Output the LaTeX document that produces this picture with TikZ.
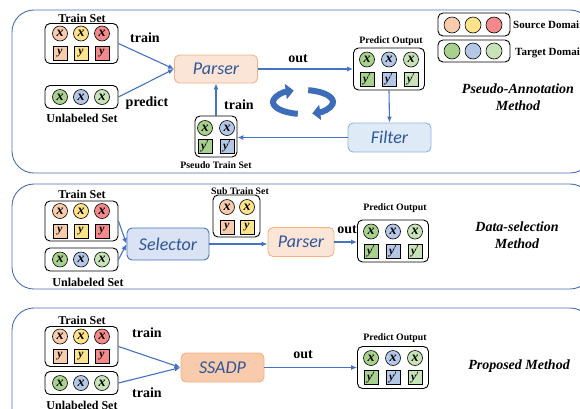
\documentclass[tikz,border=0pt]{standalone}
\usepackage{fontspec}
\setmainfont{Liberation Serif}
\newfontfamily\calib{Carlito}
\usetikzlibrary{arrows.meta}
\definecolor{cSal}{HTML}{F8CBAD}
\definecolor{cYel}{HTML}{FFE38A}
\definecolor{cRed}{HTML}{F28A8C}
\definecolor{cGrn}{HTML}{A9D18E}
\definecolor{cBlu}{HTML}{B4C7E7}
\definecolor{cLgr}{HTML}{C9E3B8}
\definecolor{cLine}{HTML}{4472C4}
\definecolor{cPanel}{HTML}{4A6FB0}
\definecolor{cTxt}{HTML}{2F5597}
\definecolor{cPfill}{HTML}{FBE5D6}
\definecolor{cPdraw}{HTML}{F4B183}
\definecolor{cFfill}{HTML}{DEEBF7}
\definecolor{cFdraw}{HTML}{8FB4E0}
\definecolor{cSfill}{HTML}{DAE3F3}
\definecolor{cSdraw}{HTML}{4472C4}
\definecolor{cCyc}{HTML}{3D6CB9}
\tikzset{
 panel/.style={draw=cPanel, line width=0.9pt, rounded corners=22pt},
 setbox/.style={draw=black, line width=0.9pt, rounded corners=5pt, inner sep=0pt},
 xc/.style={circle, draw=black, line width=0.6pt, minimum size=15pt, inner sep=0pt, font=\fontsize{14}{14}\selectfont\bfseries\itshape},
 ysq/.style={rectangle, draw=black, line width=0.6pt, minimum size=14pt, inner sep=0pt, font=\fontsize{11.5}{11.5}\selectfont\bfseries\itshape},
 lc/.style={circle, draw=black, line width=0.6pt, minimum size=16pt, inner sep=0pt},
 proc/.style={rounded corners=5pt, line width=0.9pt, font=\calib\fontsize{18}{18}\selectfont\itshape, text=cTxt, inner sep=0pt},
 lbl/.style={font=\fontsize{12}{12}\selectfont\bfseries, inner sep=0pt},
 small/.style={font=\fontsize{9.8}{9.8}\selectfont\bfseries, inner sep=0pt},
 elbl/.style={font=\fontsize{14}{14}\selectfont\bfseries, inner sep=0pt},
 meth/.style={font=\fontsize{14}{17}\selectfont\bfseries\itshape, inner sep=0pt, align=center},
 arr/.style={draw=cLine, line width=1.1pt, -{Latex[length=6pt,width=5pt]}},
 cyc/.style={draw=cCyc, line width=6pt, -{Triangle[length=8pt,width=15pt]}},
}
\newcommand{\xn}[4]{\node[xc,fill=#4] (#1) at (#2,#3) {x};}
\newcommand{\yn}[4]{\node[ysq,fill=#4] (#1) at (#2,#3) {y};}
\newcommand{\ypn}[4]{\node[ysq,fill=#4] (#1) at (#2,#3) {y$'$};}
\newcommand{\trainset}[2]{%
 \node[setbox, minimum width=73pt, minimum height=40pt] (#1) at (81.5,#2) {};
 \xn{#1x1}{60}{#2-10}{cSal}\xn{#1x2}{81}{#2-10}{cYel}\xn{#1x3}{102}{#2-10}{cRed}
 \yn{#1y1}{60}{#2+10}{cSal}\yn{#1y2}{81}{#2+10}{cYel}\yn{#1y3}{102}{#2+10}{cRed}}
\newcommand{\unlset}[2]{%
 \node[setbox, minimum width=73pt, minimum height=23pt] (#1) at (81.5,#2) {};
 \xn{#1x1}{60}{#2}{cGrn}\xn{#1x2}{81}{#2}{cBlu}\xn{#1x3}{102}{#2}{cLgr}}
\newcommand{\predset}[3]{%
 \node[setbox, minimum width=71pt, minimum height=42pt] (#1) at (#2,#3) {};
 \xn{#1x1}{#2-22}{#3-9.5}{cGrn}\xn{#1x2}{#2}{#3-9.5}{cBlu}\xn{#1x3}{#2+22}{#3-9.5}{cLgr}
 \ypn{#1y1}{#2-22}{#3+10}{cGrn}\ypn{#1y2}{#2}{#3+10}{cBlu}\ypn{#1y3}{#2+22}{#3+10}{cLgr}}
\begin{document}
\begin{tikzpicture}[x=1pt,y=-1pt]
\useasboundingbox (0,0) rectangle (580,408);
\clip (0,0) rectangle (580,408);
% panels
\draw[panel] (12,10) rectangle (592,173);
\draw[panel] (12,184) rectangle (592,289);
\draw[panel] (12,308) rectangle (592,440);

% ---------- panel 1
\node[lbl] (t1) at (82,18) {Train Set};
\trainset{ts1}{43.5}
\unlset{us1}{97}
\node[lbl] (u1) at (82,118) {Unlabeled Set};
\node[proc, fill=cPfill, draw=cPdraw, minimum width=83pt, minimum height=28pt] (p1) at (216,69) {Parser};
\draw[arr] (ts1.east) -- (p1.west);
\draw[arr] (us1.east) -- (p1.west);
\node[elbl] (l1) at (145,38) {train};
\node[elbl] (l2) at (147,103) {predict};
\node[small] (po1l) at (391,41) {Predict Output};
\predset{po1}{389}{69}
\draw[arr] (p1.east) -- (po1.west);
\node[elbl] (l3) at (298,59) {out};
\node[proc, fill=cFfill, draw=cFdraw, minimum width=83pt, minimum height=29pt] (f1) at (389.5,137.5) {Filter};
\draw[arr] (po1.south) -- (f1.north);
\node[setbox, minimum width=42pt, minimum height=41pt] (ps1) at (216,136.5) {};
\xn{ps1x1}{205}{128}{cGrn}\xn{ps1x2}{227}{128}{cBlu}
\ypn{ps1y1}{205}{146}{cGrn}\ypn{ps1y2}{227}{146}{cBlu}
\node[small] (ps1l) at (216,165) {Pseudo Train Set};
\draw[arr] (f1.west) -- (f1.west -| ps1.east);
\draw[arr] (ps1.north) -- (p1.south);
\node[elbl] (l4) at (239,105) {train};
% cycle arrows
\draw[cyc] (297.8,113.8) arc[start angle=100, end angle=252, x radius=30, y radius=12];
\draw[cyc] (308.2,90.2) arc[start angle=280, end angle=432, x radius=30, y radius=12];
% legend
\node[setbox, minimum width=72pt, minimum height=23pt] (lg1) at (474,24.5) {};
\node[lc, fill=cSal] (lg1a) at (452,25) {};
\node[lc, fill=cYel] (lg1b) at (473,25) {};
\node[lc, fill=cRed] (lg1c) at (494,25) {};
\node[setbox, minimum width=72pt, minimum height=22pt] (lg2) at (474,51) {};
\node[lc, fill=cGrn] (lg2a) at (452,51) {};
\node[lc, fill=cBlu] (lg2b) at (473,51) {};
\node[lc, fill=cLgr] (lg2c) at (494,51) {};
\node[lbl, anchor=west, font=\fontsize{11}{11}\selectfont\bfseries] (lgs) at (513,25) {Source Domain};
\node[lbl, anchor=west, font=\fontsize{11}{11}\selectfont\bfseries] (lgt) at (515,53) {Target Domain};
\node[meth] (m1) at (518,97) {Pseudo-Annotation\\Method};

% ---------- panel 2
\node[lbl] (t2) at (82,194) {Train Set};
\trainset{ts2}{221}
\unlset{us2}{259.5}
\node[lbl] (u2) at (88,282) {Unlabeled Set};
\node[proc, fill=cSfill, draw=cSdraw, minimum width=82pt, minimum height=32pt] (sel) at (168,244) {Selector};
\draw[arr] (ts2.east) -- (sel.west);
\draw[arr] (us2.east) -- (sel.west);
\node[small] (st2l) at (240,191) {Sub Train Set};
\node[setbox, minimum width=47pt, minimum height=42pt] (st2) at (236.5,216) {};
\xn{st2x1}{227}{207}{cSal}\xn{st2x2}{247}{207}{cYel}
\yn{st2y1}{227}{227}{cSal}\yn{st2y2}{247}{227}{cYel}
\node[proc, fill=cPfill, draw=cPdraw, minimum width=66pt, minimum height=29pt] (p2) at (301,242) {Parser};
\draw[arr] (sel.east) -- (sel.east -| p2.west);
\node[small] (po2l) at (395,208) {Predict Output};
\predset{po2}{393}{241}
\draw[arr] (p2.east) -- (p2.east -| po2.west);
\node[elbl] (l5) at (347,230) {out};
\node[meth] (m2) at (517,235.5) {Data-selection\\Method};

% ---------- panel 3
\node[lbl] (t3) at (82,320) {Train Set};
\trainset{ts3}{346.5}
\unlset{us3}{383}
\node[lbl] (u3) at (82,405) {Unlabeled Set};
\node[proc, fill=cSal, draw=cPdraw, minimum width=83pt, minimum height=29pt] (ss) at (222.5,367.5) {SSADP};
\draw[arr] (ts3.east) -- (ss.west);
\draw[arr] (us3.east) -- (ss.west);
\node[elbl] (l6) at (147,333) {train};
\node[elbl] (l7) at (147,393) {train};
\node[small] (po3l) at (395,338) {Predict Output};
\predset{po3}{393}{367.5}
\draw[arr] (ss.east) -- (ss.east -| po3.west);
\node[elbl] (l8) at (303,355) {out};
\node[meth] (m3) at (519,366) {Proposed Method};
\end{tikzpicture}
\end{document}
